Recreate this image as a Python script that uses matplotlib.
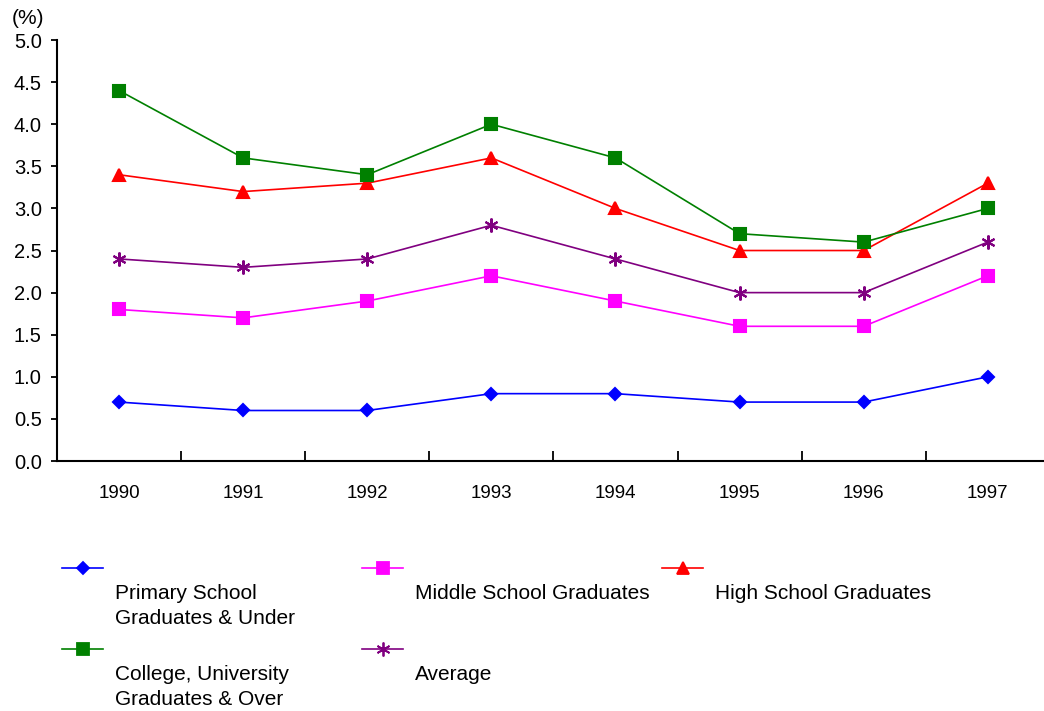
import matplotlib
matplotlib.use("Agg")
import matplotlib.pyplot as plt
from matplotlib.lines import Line2D

plt.rcParams['font.family'] = ['Liberation Sans', 'DejaVu Sans']

## data
years    = ['1990', '1991', '1992', '1993', '1994', '1995', '1996', '1997']
primary  = [0.7, 0.6, 0.6, 0.8, 0.8, 0.7, 0.7, 1.0]
middle   = [1.8, 1.7, 1.9, 2.2, 1.9, 1.6, 1.6, 2.2]
high     = [3.4, 3.2, 3.3, 3.6, 3.0, 2.5, 2.5, 3.3]
college  = [4.4, 3.6, 3.4, 4.0, 3.6, 2.7, 2.6, 3.0]
average  = [2.4, 2.3, 2.4, 2.8, 2.4, 2.0, 2.0, 2.6]
labels   = ['Primary School\nGraduates & Under', 'Middle School Graduates', 'High School Graduates',
            'College, University\nGraduates & Over', 'Average']

series  = [primary, middle, high, college, average]
colors  = ['#0000FF', '#FF00FF', '#FF0000', '#008000', '#800080']
markers = ['D', 's', '^', 's', (6, 2, 0)]
msizes  = [6.5, 8, 8.5, 8, 10]

fig = plt.figure(figsize=(10.44, 7.11), dpi=100)
ax = fig.add_axes([0.0546, 0.3516, 0.951, 0.5921])

x = list(range(len(years)))
for s, c, m, ms in zip(series, colors, markers, msizes):
    ax.plot(x, s, color=c, lw=1.2, marker=m, ms=ms, mfc=c, mec=c, mew=1.5, clip_on=False)

ax.set_xlim(-0.5, len(years) - 0.5)
ax.set_ylim(0, 5)
ax.set_yticks([i * 0.5 for i in range(11)])
ax.set_yticklabels(['%.1f' % (i * 0.5) for i in range(11)], fontsize=14.5)
ax.set_xticks(x)
ax.set_xticklabels(years, fontsize=13.5)
ax.set_xticks([i + 0.5 for i in range(len(years) - 1)], minor=True)
ax.tick_params(axis='x', which='major', length=0, pad=17)
ax.tick_params(axis='x', which='minor', direction='in', length=7, width=1.3)
ax.tick_params(axis='y', direction='out', length=4, width=1.3, pad=7)
for side in ['top', 'right']:
    ax.spines[side].set_visible(False)
for side in ['left', 'bottom']:
    ax.spines[side].set_linewidth(1.5)

fig.text(12 / 1044, 1 - 19 / 711, '(%)', fontsize=15, va='center', ha='left')

## legend drawn by hand: line+marker on top, label underneath
pos = [(62, 568), (362, 568), (662, 568), (62, 649), (362, 649)]
W, H = 1044.0, 711.0
for (px, py), lab, c, m, ms in zip(pos, labels, colors, markers, msizes):
    fig.add_artist(Line2D([px / W, (px + 41) / W], [1 - py / H, 1 - py / H], color=c, lw=1.2))
    fig.add_artist(Line2D([(px + 21) / W], [1 - py / H], color=c, marker=m, ms=ms,
                          mfc=c, mec=c, mew=1.3, lw=0))
    fig.text((px + 53) / W, 1 - (py + 16) / H, lab, fontsize=15, va='top', ha='left',
             linespacing=1.4)

fig.savefig('out.png', dpi=100)
